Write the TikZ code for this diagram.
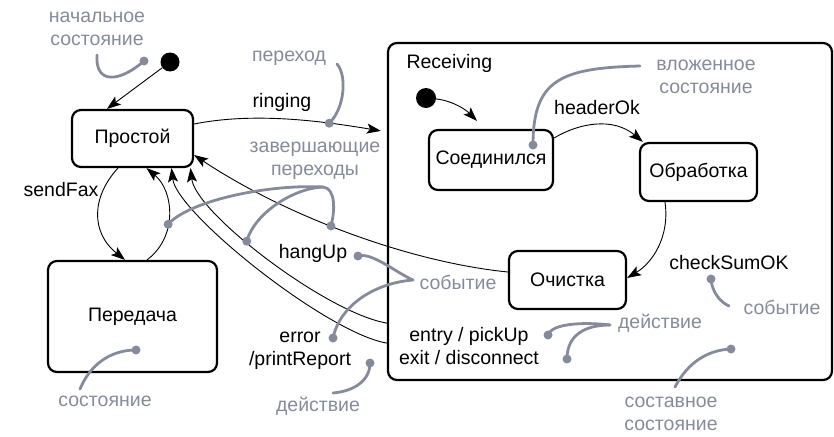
\documentclass[tikz,border=0pt]{standalone}
\usepackage{fontspec}
\setmainfont{Liberation Sans}
\usetikzlibrary{arrows.meta}
\definecolor{notegray}{RGB}{134,139,156}
\begin{document}
\begin{tikzpicture}[x=1pt, y=-1pt,
    font=\fontsize{19.5}{23}\selectfont,
    state/.style={draw, line width=2.2pt, rounded corners=9pt, inner sep=1pt},
    trans/.style={line width=0.9pt, -{Stealth[length=14pt,width=10pt,inset=3pt]}},
    note/.style={text=notegray, align=center},
    lead/.style={draw=notegray, line width=2.8pt, line cap=round},
    blob/.style={circle, fill, inner sep=0pt, minimum size=#1}]
    \useasboundingbox (0,0) rectangle (834,436);

    \node[state, minimum width=121pt, minimum height=57pt] (idle) at (132.5,138.5) {Простой};
    \node[state, minimum width=169pt, minimum height=111pt] (transmit) at (132.5,316.5) {Передача};
    \node[state, minimum width=444pt, minimum height=337pt] (recv) at (610,211.5) {};
    \node[anchor=west] (recvname) at (403,63) {Receiving};
    \node[state, minimum width=124pt, minimum height=60pt] (connected) at (491,160) {Соединился};
    \node[state, minimum width=117pt, minimum height=58pt] (processing) at (698.5,172) {Обработка};
    \node[state, minimum width=117pt, minimum height=58pt] (cleanup) at (567.5,280) {Очистка};
    \node[blob=19pt] (start) at (170,62) {};
    \node[blob=20pt] (substart) at (426,98) {};

    \draw[trans] (start) -- ([xshift=36pt]idle.north west);
    \draw[trans] ([yshift=14.5pt]idle.east) .. controls +(60,-12) and +(-60,-10) .. ([xshift=-6pt,yshift=-89pt]recv.north west) coordinate[pos=0.72] (ringdot);
    \node (ringing) at (282,102) {ringing};
    \draw[trans] ([xshift=-14.5pt]idle.south) .. controls +(-26,28) and +(-35,-28) .. ([xshift=-7.5pt]transmit.north);
    \node (sendfax) at (61,190) {sendFax};
    \draw[trans] ([xshift=14.5pt]transmit.north) .. controls +(31,-23) and +(27.5,23) .. ([xshift=14pt]idle.south) coordinate[pos=0.4] (backdot);
    \draw[trans] ([yshift=8pt]cleanup.west) .. controls +(-100,-10) and +(90,60) .. ([yshift=-16.5pt]idle.east) coordinate[pos=0.55] (donedot);
    \draw[trans] ([yshift=58pt]recv.south west) .. controls +(-60,-10) and +(5,45) .. ([xshift=58pt]idle.south) coordinate[pos=0.59] (hangline);
    \draw[trans] ([yshift=38pt]recv.south west) .. controls +(-60,-10) and +(5,45) .. ([xshift=39pt]idle.south);
    \node (hangup) at (313,253) {hangUp};
    \node[align=center] (error) at (300,351) {error\\/printReport};

    \draw[trans] (substart) .. controls +(22,2) and +(-14,-14) .. ([xshift=-14pt,yshift=8pt]connected.north);
    \draw[trans] ([yshift=22pt]connected.east) .. controls +(25,-15) and +(-30,-25) .. ([xshift=4pt]processing.north west);
    \node (headerok) at (597,108) {headerOk};
    \draw[trans] ([xshift=-33.5pt]processing.south) .. controls +(5,35) and +(25,-15) .. ([yshift=2pt]cleanup.east);
    \node (checksum) at (729,263) {checkSumOK};
    \node[align=center] (actions) at (469,346) {entry / pickUp\\exit / disconnect};

    \node[note] (initnote) at (97,29) {начальное\\состояние};
    \node[note] (transnote) at (289,58) {переход};
    \node[note] (donenote) at (315,161) {завершающие\\переходы};
    \node[note] (eventnote) at (458,282) {событие};
    \node[note] (actnote) at (318,406) {действие};
    \node[note] (statenote) at (105,401) {состояние};
    \node[note] (nestnote) at (706,77) {вложенное\\состояние};
    \node[note] (entrynote) at (660,323) {действие};
    \node[note] (checknote) at (782,307) {событие};
    \node[note] (compnote) at (671,414) {составное\\состояние};

    \coordinate (initfork) at (97,55);
    \coordinate (initdot) at (144,61);
    \coordinate (transfork) at (337,64);
    \coordinate (donefork) at (323,187);
    \coordinate (eventfork) at (413,280);
    \coordinate (hangdot) at (358,256);
    \coordinate (errordot) at (333,338);
    \coordinate (reportdot) at (370,363);
    \coordinate (actfork) at (333,393);
    \coordinate (statefork) at (80,389);
    \coordinate (statedot) at (136,350);
    \coordinate (nestfork) at (640,66);
    \coordinate (nestdot) at (533,145);
    \coordinate (entryfork) at (610,325);
    \coordinate (pickdot) at (548,335);
    \coordinate (discdot) at (567,359);
    \coordinate (checkdot) at (711,279);
    \coordinate (checkfork) at (729,306);
    \coordinate (compfork) at (675,387);
    \coordinate (compdot) at (731,349);

    \draw[lead] (initfork) .. controls (95,85) and (120,82) .. (initdot);
    \draw[lead] (transfork) .. controls (347,75) and (345,108) .. (ringdot);
    \draw[lead] (donefork) .. controls (270,184) and (190,200) .. (backdot);
    \draw[lead] (donefork) .. controls (295,188) and (255,212) .. (hangline);
    \draw[lead] (donefork) .. controls (336,188) and (335,212) .. (donedot);
    \draw[lead] (eventfork) .. controls (395,272) and (372,252) .. (hangdot);
    \draw[lead] (eventfork) .. controls (375,283) and (340,305) .. (errordot);
    \draw[lead] (reportdot) .. controls (370,380) and (355,391) .. (actfork);
    \draw[lead] (statefork) .. controls (90,365) and (110,350) .. (statedot);
    \draw[lead] (nestfork) .. controls (560,68) and (533,80) .. (nestdot);
    \draw[lead] (entryfork) .. controls (585,322) and (552,323) .. (pickdot);
    \draw[lead] (entryfork) .. controls (585,325) and (567,335) .. (discdot);
    \draw[lead] (checkdot) .. controls (712,292) and (720,302) .. (checkfork);
    \draw[lead] (compfork) .. controls (688,362) and (708,350) .. (compdot);
    \foreach \d in {initdot,ringdot,backdot,hangline,donedot,hangdot,errordot,reportdot,statedot,nestdot,pickdot,discdot,checkdot,compdot}
        \fill[notegray] (\d) circle (4.5);
\end{tikzpicture}
\end{document}
